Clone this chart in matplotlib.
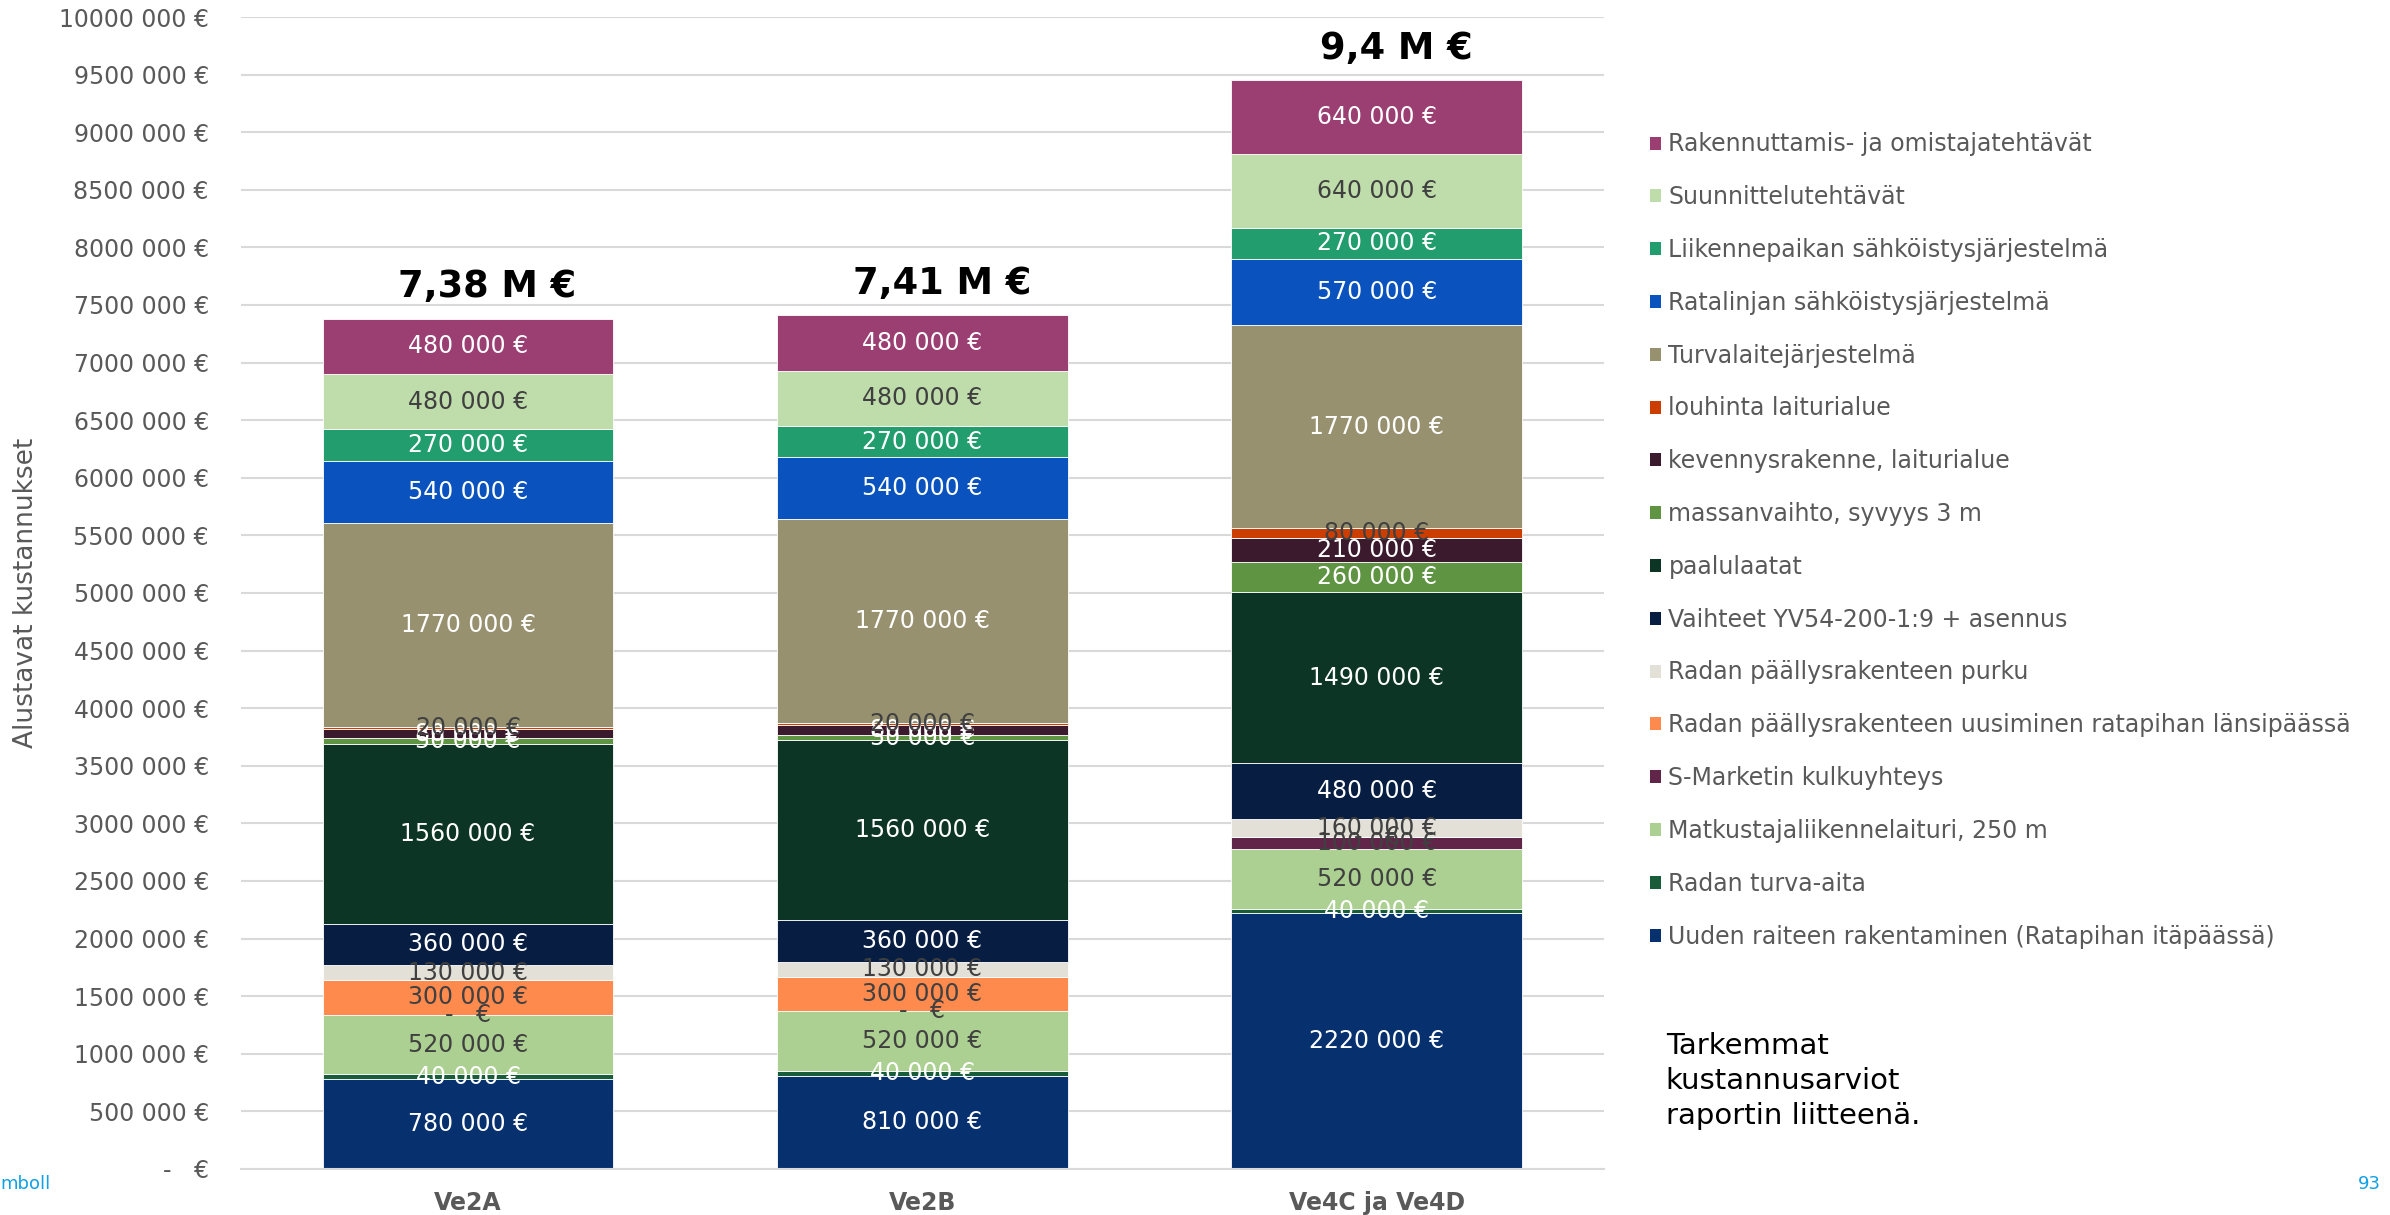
import matplotlib.pyplot as plt
from matplotlib.patches import Patch
from matplotlib.ticker import MultipleLocator, FuncFormatter
import numpy as np

plt.rcParams['font.family'] = 'DejaVu Sans'

# vaihtoehdot ja kokonaiskustannukset
vaihtoehdot = ['Ve2A', 'Ve2B', 'Ve4C ja Ve4D']
kokonais_tekstit = ['7,38 M €', '7,41 M €', '9,4 M €']

# kustannuserät, pinon alimmasta ylimpään (€)
uusi_raide = [780000, 810000, 2220000]
turva_aita = [40000, 40000, 40000]
laituri = [520000, 520000, 520000]
s_market = [0, 0, 100000]
uusiminen = [300000, 300000, 0]
purku = [130000, 130000, 160000]
vaihteet = [360000, 360000, 480000]
paalulaatat = [1560000, 1560000, 1490000]
massanvaihto = [50000, 50000, 260000]
kevennys = [80000, 80000, 210000]
louhinta = [20000, 20000, 80000]
turvalaite = [1770000, 1770000, 1770000]
ratalinja = [540000, 540000, 570000]
liikennepaikka = [270000, 270000, 270000]
suunnittelu = [480000, 480000, 640000]
rakennuttaminen = [480000, 480000, 640000]

erat = [
    ('Uuden raiteen rakentaminen (Ratapihan itäpäässä)', uusi_raide),
    ('Radan turva-aita', turva_aita),
    ('Matkustajaliikennelaituri, 250 m', laituri),
    ('S-Marketin kulkuyhteys', s_market),
    ('Radan päällysrakenteen uusiminen ratapihan länsipäässä', uusiminen),
    ('Radan päällysrakenteen purku', purku),
    ('Vaihteet YV54-200-1:9 + asennus', vaihteet),
    ('paalulaatat', paalulaatat),
    ('massanvaihto, syvyys 3 m', massanvaihto),
    ('kevennysrakenne, laiturialue', kevennys),
    ('louhinta laiturialue', louhinta),
    ('Turvalaitejärjestelmä', turvalaite),
    ('Ratalinjan sähköistysjärjestelmä', ratalinja),
    ('Liikennepaikan sähköistysjärjestelmä', liikennepaikka),
    ('Suunnittelutehtävät', suunnittelu),
    ('Rakennuttamis- ja omistajatehtävät', rakennuttaminen),
]

# (palkin väri, arvotekstin väri)
tyylit = [
    ('#06306e', 'white'),
    ('#195c3a', 'white'),
    ('#acd091', '#404040'),
    ('#62254a', '#404040'),
    ('#ff8a4e', '#404040'),
    ('#e3e0d8', '#404040'),
    ('#071d42', 'white'),
    ('#0c3526', 'white'),
    ('#5f9442', 'white'),
    ('#3b1a2e', 'white'),
    ('#cc3e00', '#404040'),
    ('#979170', 'white'),
    ('#0a53be', 'white'),
    ('#229d6e', 'white'),
    ('#bfdcab', '#404040'),
    ('#9b3e72', 'white'),
]


def euro(v, pos=None):
    v = int(round(v))
    if v == 0:
        return '-   €'
    return f'{v // 1000} {v % 1000:03d} €'


fig = plt.figure(figsize=(23.9, 12.15), dpi=100)
ax = fig.add_axes([0.1008, 0.0379, 0.5703, 0.9481])

x = np.arange(len(vaihtoehdot))
pohja = np.zeros(len(vaihtoehdot))
kahvat = []
for (nimi, arvot), (vari, tekstivari) in zip(erat, tyylit):
    arvot = np.array(arvot, dtype=float)
    ax.bar(x, arvot, 0.64, bottom=pohja, color=vari, edgecolor='white',
           linewidth=0.6, label=nimi)
    for xi, b, v in zip(x, pohja, arvot):
        ax.text(xi, b + v / 2, euro(v), ha='center', va='center',
                fontsize=17, color=tekstivari)
    pohja += arvot
    kahvat.append(Patch(facecolor=vari, label=nimi))

for xi, tot, teksti in zip(x, pohja, kokonais_tekstit):
    ax.annotate(teksti, (xi, tot), xytext=(14, 23), textcoords='offset points',
                ha='center', va='center', fontsize=26.5, fontweight='bold',
                color='black')

ax.set_xlim(-0.5, 2.5)
ax.set_ylim(0, 10000000)
ax.yaxis.set_major_locator(MultipleLocator(500000))
ax.yaxis.set_major_formatter(FuncFormatter(euro))
ax.set_xticks(x)
ax.set_xticklabels(vaihtoehdot, fontsize=17, fontweight='bold', color='#595959')
ax.tick_params(axis='y', length=0, pad=23, labelsize=17, labelcolor='#595959')
ax.tick_params(axis='x', length=0, pad=16)
ax.yaxis.grid(True, color='#d9d9d9', linewidth=1.5)
ax.set_axisbelow(True)
for s in ['left', 'right', 'top']:
    ax.spines[s].set_visible(False)
ax.spines['bottom'].set_color('#d9d9d9')
ax.spines['bottom'].set_linewidth(1.5)

ax.set_ylabel('Alustavat kustannukset', fontsize=19, color='#595959')
ax.yaxis.set_label_coords(-0.148, 0.5)

fig.legend(handles=kahvat[::-1], loc='upper left',
           bbox_to_anchor=(0.6905, 0.891), frameon=False, fontsize=17,
           labelcolor='#595959', handlelength=0.47, handleheight=0.47,
           handletextpad=0.3, labelspacing=1.22, borderpad=0, borderaxespad=0)

fig.text(0.697, 0.1103, 'Tarkemmat\nkustannusarviot\nraportin liitteenä.',
         ha='left', va='center', fontsize=21, color='black', linespacing=1.32)

fig.text(0.0, 0.0255, 'mboll', ha='left', va='center', fontsize=13,
         color='#0fa0e6')
fig.text(0.9962, 0.0255, '93', ha='right', va='center', fontsize=13,
         color='#0fa0e6')

fig.savefig('out.png', dpi=100)
